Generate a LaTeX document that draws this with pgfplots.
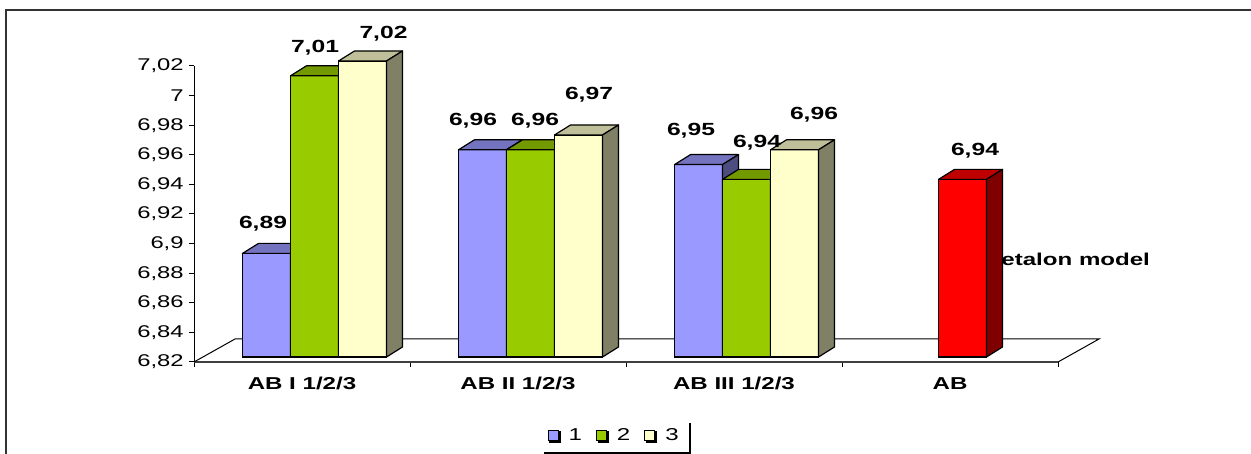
\documentclass[border=0pt]{standalone}
\usepackage{pgfplots}
\pgfplotsset{compat=1.18}
\usepackage{pgfplotstable}
\usepackage{fontspec}
\setmainfont{Liberation Sans}[FakeStretch=1.4]
\usetikzlibrary{shadows}

% face colours: front, top (75%), side (50%)
\definecolor{serA}{HTML}{9999FF}\definecolor{serAtop}{HTML}{7373BF}\definecolor{serAside}{HTML}{4D4D80}
\definecolor{serB}{HTML}{99CC00}\definecolor{serBtop}{HTML}{739900}\definecolor{serBside}{HTML}{4D6600}
\definecolor{serC}{HTML}{FFFFCC}\definecolor{serCtop}{HTML}{BFBF99}\definecolor{serCside}{HTML}{808066}
\definecolor{serR}{HTML}{FF0000}\definecolor{serRtop}{HTML}{BF0000}\definecolor{serRside}{HTML}{800000}

% v = value; lx, ly = label offset from the bar top (px)
\pgfplotstableread{
x v lx ly
0 6.89 -3.5 31
1 6.96 -9.5 30
2 6.95 -7.5 35
}\serAtab
\pgfplotstableread{
x v lx ly
0 7.01 0.5 29
1 6.96 4.5 30
2 6.94 10.5 38
}\serBtab
\pgfplotstableread{
x v lx ly
0 7.02 21 28
1 6.97 10.5 41
2 6.96 19.5 36
}\serCtab
\pgfplotstableread{
x v lx ly
3 6.94 12.5 30
}\serRtab

\pgfdeclareplotmark{blank}{}
\pgfplotsset{
  front bar/.style n args={2}{%
    ybar, bar width=24pt, bar shift=#1, fill=#2, draw=black, line width=0.6pt,
    legend image code/.code={\draw[##1, draw=black, line width=0.5pt] (0pt,-2pt) rectangle (5pt,3pt);},
  },
  % whole 3-D box (front, top, side) drawn at each data point
  box faces/.style n args={4}{%
    forget plot, only marks, mark=blank, scatter,
    visualization depends on={\thisrow{v}-6.82 \as \barv},
    scatter/@pre marker code/.code={%
      \pgfmathsetmacro\barh{\barv*740}%
      \filldraw[fill=#2, draw=black, line width=0.6pt, line join=round]
        (#1-12pt,0pt) rectangle (#1+12pt,-\barh pt);
      \filldraw[fill=#3, draw=black, line width=0.6pt, line join=round]
        (#1-12pt,0pt) -- ++(8pt,5pt) -- ++(24pt,0pt) -- ++(-8pt,-5pt) -- cycle;
      \filldraw[fill=#4, draw=black, line width=0.6pt, line join=round]
        (#1+12pt,0pt) -- ++(8pt,5pt) -- ++(0pt,-\barh pt) -- ++(-8pt,-5pt) -- cycle;
    },
    scatter/@post marker code/.code={},
  },
  value labels/.style={%
    forget plot, draw=none, mark=none, point meta=\thisrow{v},
    visualization depends on={\thisrow{lx} \as \labx},
    visualization depends on={\thisrow{ly} \as \laby},
    nodes near coords={\pgfmathprintnumber[fixed,fixed zerofill,precision=2,use comma,assume math mode=true]{\pgfplotspointmeta}},
    every node near coord/.append style={anchor=base, inner sep=0pt,
      font=\bfseries\fontsize{8.8}{10}\selectfont,
      xshift={#1+0.5pt*(\labx)}, yshift={0.5pt*(\laby)-3pt}},
  },
}

\begin{document}
\begin{tikzpicture}
\useasboundingbox (0pt,0pt) rectangle (625.5pt,227pt);
\draw[line width=1pt, black!80] (2.75pt,-2pt) -- (2.75pt,222pt) -- (627pt,222pt);

% value axis, category axis and floor
\begin{axis}[
  at={(97pt,46pt)}, anchor=south west, scale only axis,
  width=432pt, height=148pt,
  xmin=-0.5, xmax=3.5, ymin=6.82, ymax=7.02,
  axis x line=bottom, axis y line=left,
  x axis line style={-, line width=0.9pt, draw=black!75},
  y axis line style={-, line width=0.5pt},
  tick align=outside, major tick length=2.5pt,
  tick style={black, line width=0.5pt},
  xtick={-0.5,0.5,1.5,2.5,3.5}, xticklabels={},
  extra x ticks={0,1,2,3},
  extra x tick labels={AB I 1/2/3, AB II 1/2/3, AB III 1/2/3, AB},
  extra x tick style={major tick length=0pt,
    xticklabel style={font=\bfseries\fontsize{8.6}{10}\selectfont, anchor=north, inner sep=0pt, yshift=-7.5pt}},
  ytick={6.82,6.84,6.86,6.88,6.9,6.92,6.94,6.96,6.98,7,7.02},
  yticklabel style={font=\fontsize{8.5}{10}\selectfont, anchor=east, inner sep=0pt, xshift=-2.5pt,
    /pgf/number format/use comma},
  /pgf/number format/assume math mode=true,
  clip=false,
]
\draw[line width=0.5pt] (axis cs:-0.5,6.82) -- ++(20.5pt,11.5pt)
  -- ([xshift=20.5pt,yshift=11.5pt]axis cs:3.5,6.82) -- (axis cs:3.5,6.82);
\end{axis}

% bars
\begin{axis}[
  at={(103.25pt,48.5pt)}, anchor=south west, scale only axis,
  width=432pt, height=148pt,
  xmin=-0.5, xmax=3.5, ymin=0, ymax=0.2,
  hide axis, clip=false,
  legend columns=-1,
  legend style={at={(0.473,-0.267)}, anchor=center, draw=none, fill=white,
    font=\fontsize{8.6}{9}\selectfont, inner xsep=3pt, inner ysep=2pt,
    /tikz/every odd column/.append style={column sep=3pt},
    /tikz/every even column/.append style={column sep=5pt},
    drop shadow={shadow xshift=1pt, shadow yshift=-1pt, fill=black, opacity=1}},
]
\addplot[front bar={-24pt}{serA}] table[x=x, y expr=\thisrow{v}-6.82]{\serAtab};
\addplot[front bar={0pt}{serB}] table[x=x, y expr=\thisrow{v}-6.82]{\serBtab};
\addplot[front bar={24pt}{serC}] table[x=x, y expr=\thisrow{v}-6.82]{\serCtab};
\addplot[front bar={0pt}{serR}, forget plot] table[x=x, y expr=\thisrow{v}-6.82]{\serRtab};

\addplot[box faces={-24pt}{serA}{serAtop}{serAside}] table[x=x, y expr=\thisrow{v}-6.82]{\serAtab};
\addplot[box faces={0pt}{serB}{serBtop}{serBside}] table[x=x, y expr=\thisrow{v}-6.82]{\serBtab};
\addplot[box faces={24pt}{serC}{serCtop}{serCside}] table[x=x, y expr=\thisrow{v}-6.82]{\serCtab};
\addplot[box faces={0pt}{serR}{serRtop}{serRside}] table[x=x, y expr=\thisrow{v}-6.82]{\serRtab};

\addplot[value labels={-24pt}] table[x=x, y expr=\thisrow{v}-6.82]{\serAtab};
\addplot[value labels={0pt}] table[x=x, y expr=\thisrow{v}-6.82]{\serBtab};
\addplot[value labels={24pt}] table[x=x, y expr=\thisrow{v}-6.82]{\serCtab};
\addplot[value labels={0pt}] table[x=x, y expr=\thisrow{v}-6.82]{\serRtab};
\legend{1,2,3}
\end{axis}

\node[anchor=base west, inner sep=0pt, font=\bfseries\fontsize{8.6}{10}\selectfont] at (500.5pt,94pt) {etalon model};
\end{tikzpicture}
\end{document}
